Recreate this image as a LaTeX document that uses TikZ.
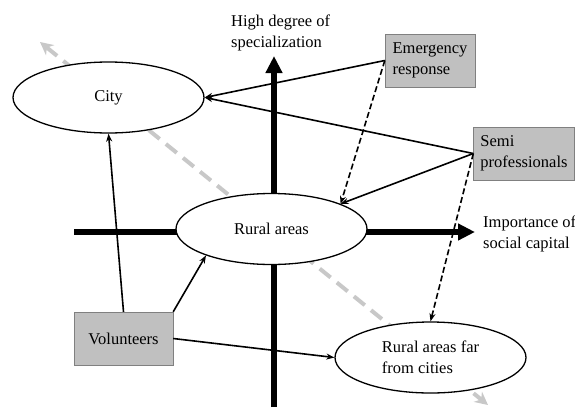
\documentclass[tikz,border=0pt]{standalone}
\usepackage{fontspec}
\setmainfont{Liberation Serif}
\newfontfamily\figfont{Liberation Serif}
\usepackage{tikz}
\usetikzlibrary{shapes.geometric}
\usetikzlibrary{arrows.meta}
\usepackage{color}
\definecolor{boxgray}{RGB}{192, 192, 192}
\definecolor{framegray}{RGB}{128, 128, 128}
\definecolor{trendgray}{RGB}{200, 200, 200}

\tikzset{
  place/.style={ellipse, draw, line width=1.3pt, fill=white, inner sep=0pt, align=left,
                minimum width=191pt, minimum height=71pt},
  actor/.style={rectangle, draw=framegray, fill=boxgray, inner sep=0pt, align=left, minimum height=53pt},
  axis/.style={line width=6pt, -{Triangle[length=17pt, width=16pt]}},
  link/.style={line width=1.6pt, -{Stealth[length=8pt, width=6pt]}},
  linkdash/.style={link, dash pattern=on 6pt off 3pt},
  label/.style={anchor=west, inner sep=0pt, align=left},
}

\begin{document}
\begin{tikzpicture}[x=1pt, y=-1pt, font=\figfont\fontsize{16.5}{20.5}\selectfont]
            \useasboundingbox (0,0) rectangle (575,407);
            % axes and trend
            \coordinate (ybot) at (274,407);  \coordinate (ytop) at (274,56);
            \coordinate (xlft) at (74,232);   \coordinate (xrgt) at (475,232);
            \coordinate (tr1)  at (40,42);    \coordinate (tr2)  at (488,405);
            \draw[axis] (ybot) -- (ytop);
            \draw[axis] (xlft) -- (xrgt);
            \draw[trendgray, line width=4pt, dash pattern=on 14pt off 8pt,
                  {Stealth[length=13pt, width=13pt]}-{Stealth[length=13pt, width=13pt]}] (tr1) -- (tr2);
            \node[label] (spec)   at (231, 33) {High degree of\\specialization};
            \node[label] (social) at (483,234) {Importance of\\social capital};
            % places
            \node[place] (city)  at (108.5, 97.5) {City};
            \node[place] (rural) at (271.5,229.0) {Rural areas};
            \node[place] (far)   at (430.5,357.5) {Rural areas far\\from cities};
            % actors
            \node[actor, minimum width=90pt]  (emerg) at (430.0, 60.5) {Emergency\\response};
            \node[actor, minimum width=101pt] (semi)  at (524.0,153.5) {Semi\\professionals};
            \node[actor, minimum width=99pt]  (volun) at (123.5,338.5) {Volunteers};
            % links
            \draw[link]     (emerg.west)  -- (city.east);
            \draw[linkdash] (emerg.west)  -- (rural.20);
            \draw[link]     (semi.west)   -- (city.east);
            \draw[link]     (semi.west)   -- (rural.20);
            \draw[linkdash] (semi.west)   -- (far.north);
            \draw[link]     (volun.north) -- (city.south);
            \draw[link]     (volun.north east) -- (rural.202);
            \draw[link]     (volun.east)  -- (far.west);
        \end{tikzpicture}
\end{document}
